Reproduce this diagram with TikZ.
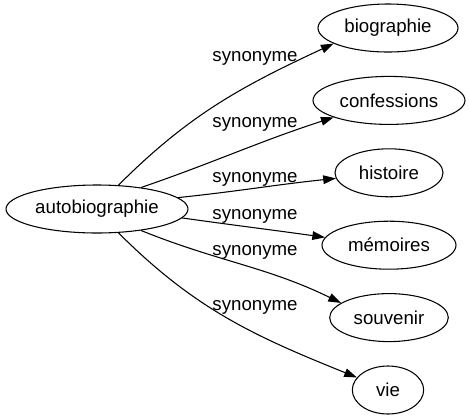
\documentclass[tikz,border=0pt]{standalone}
\usepackage{fontspec}
\setmainfont{Liberation Sans}
\usetikzlibrary{arrows.meta,shapes.geometric}
\tikzset{
  mot/.style={draw, ellipse, inner sep=0pt, minimum height=36pt, line width=0.8pt, font=\fontsize{14pt}{16pt}\selectfont},
  syn/.style={line width=0.8pt, -{Triangle[length=9.5pt,width=6.5pt]}},
  lbl/.style={inner sep=0pt, font=\fontsize{14pt}{16pt}\selectfont}
}
\begin{document}
\begin{tikzpicture}[x=0.75pt,y=0.75pt]
    \useasboundingbox (0,0) rectangle (469,-419);

    \node[mot, minimum width=136.5pt] (auto) at (97,-209) {autobiographie};
    \node[mot, minimum width=105pt] (bio) at (388,-28) {biographie};
    \node[mot, minimum width=114pt] (conf) at (389,-100.4) {confessions};
    \node[mot, minimum width=81pt] (hist) at (389,-172.8) {histoire};
    \node[mot, minimum width=100.5pt] (mem) at (389,-245.2) {mémoires};
    \node[mot, minimum width=89pt] (souv) at (389,-317.6) {souvenir};
    \node[mot, minimum width=53.5pt] (vie) at (388,-390) {vie};

    \draw[syn] (auto.48) to[out=45,in=205] (bio.196);
    \draw[syn] (auto.26) to[out=19,in=198] (conf.197);
    \draw[syn] (auto.8) to[out=6,in=186] (hist.186);
    \draw[syn] (auto.-6) to[out=-8,in=172] (mem.173);
    \draw[syn] (auto.-26) to[out=-22,in=154] (souv.163);
    \draw[syn] (auto.-48) to[out=-45,in=158] (vie.158);

    \node[lbl] (s1) at (255,-58) {synonyme};
    \node[lbl] (s2) at (255,-124) {synonyme};
    \node[lbl] (s3) at (255,-179) {synonyme};
    \node[lbl] (s4) at (255,-216) {synonyme};
    \node[lbl] (s5) at (255,-252) {synonyme};
    \node[lbl] (s6) at (255,-307) {synonyme};

\end{tikzpicture}
\end{document}
